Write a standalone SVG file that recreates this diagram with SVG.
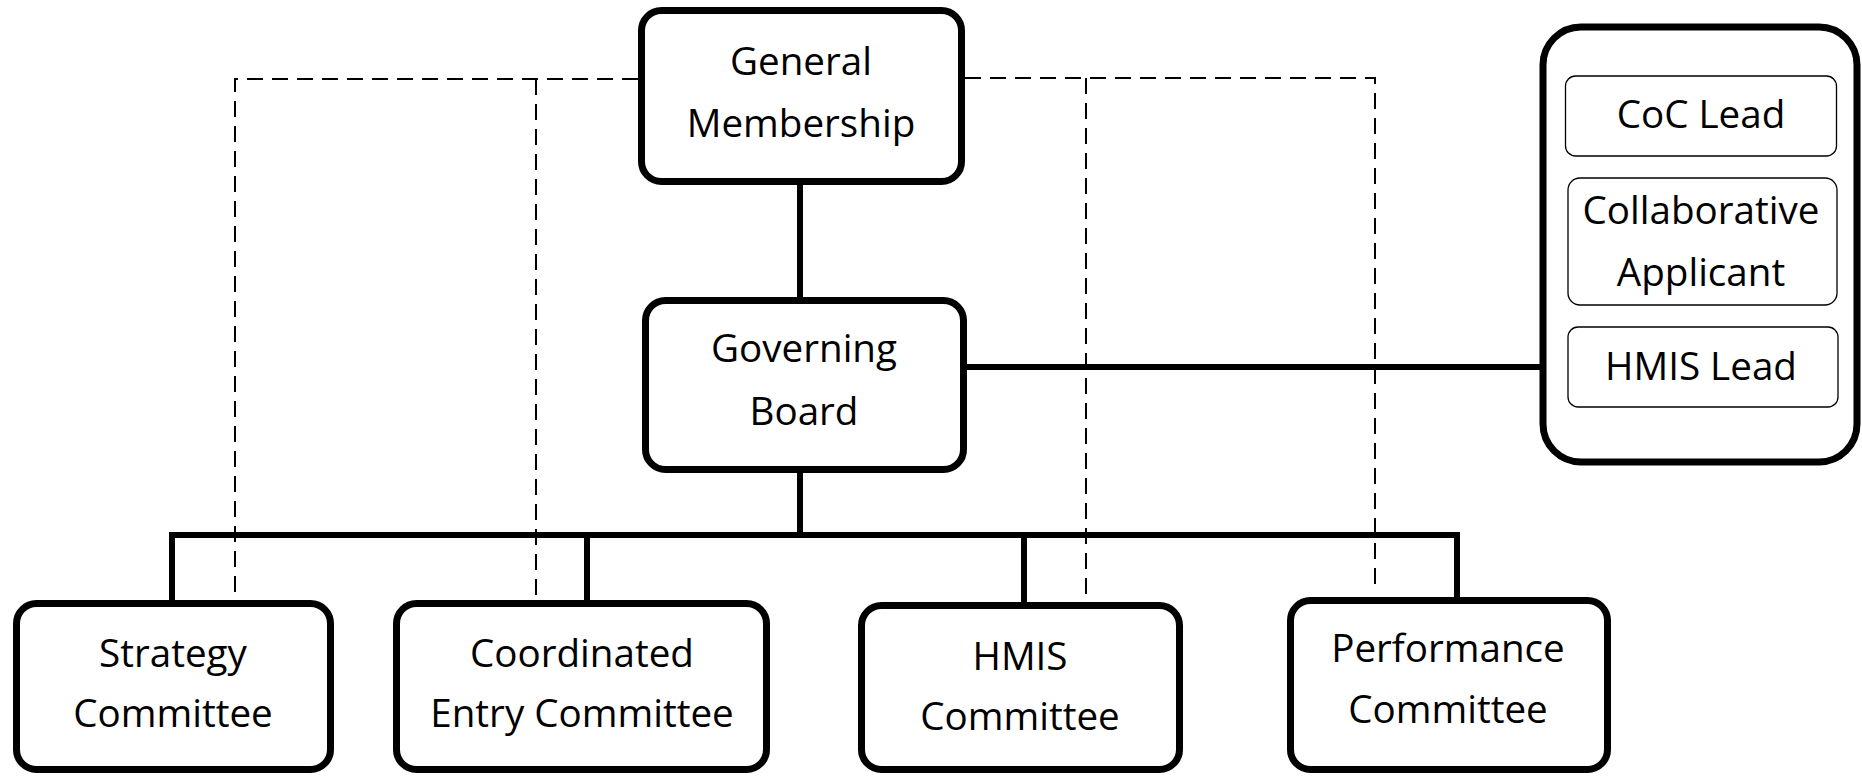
<svg xmlns="http://www.w3.org/2000/svg" width="1862" height="776" viewBox="0 0 1862 776">
<style>
.box{fill:#fff;stroke:#000;stroke-width:7}
.inner{fill:#fff;stroke:#000;stroke-width:1.3}
.solid{fill:none;stroke:#000;stroke-width:6}
.dash{fill:none;stroke:#000;stroke-width:2;stroke-dasharray:16 9}
text{font-family:"Open Sans","Liberation Sans",sans-serif;font-size:38.6px;fill:#000;text-anchor:middle}
</style>
<rect width="1862" height="776" fill="#fff"/>
<g id="connectors">
<path class="dash" d="M638 79 H235 V592"/>
<path class="dash" d="M536 79 V598"/>
<path class="dash" d="M965 78 H1375 V592"/>
<path class="dash" d="M1086 78 V595"/>
<path class="solid" d="M800 185 V297"/>
<path class="solid" d="M800 473 V535"/>
<path class="solid" d="M172 600 V535 H1457 V597"/>
<path class="solid" d="M587 535 V600"/>
<path class="solid" d="M1024 535 V602"/>
<path class="solid" d="M967 367 H1540"/>
</g>
<g id="general-membership">
<rect class="box" x="641.5" y="10.5" width="320" height="171" rx="20"/>
<text x="801" y="75">General</text>
<text x="801" y="137">Membership</text>
</g>
<g id="governing-board">
<rect class="box" x="645.5" y="300.5" width="318" height="169" rx="20"/>
<text x="804" y="362">Governing</text>
<text x="804" y="425">Board</text>
</g>
<g id="strategy-committee">
<rect class="box" x="16.5" y="603.5" width="314" height="166" rx="20"/>
<text x="173" y="667">Strategy</text>
<text x="173" y="727">Committee</text>
</g>
<g id="coordinated-entry-committee">
<rect class="box" x="396.5" y="603.5" width="370" height="166" rx="20"/>
<text x="582" y="667">Coordinated</text>
<text x="582" y="727">Entry Committee</text>
</g>
<g id="hmis-committee">
<rect class="box" x="861.5" y="605.5" width="318" height="164" rx="20"/>
<text x="1020" y="670">HMIS</text>
<text x="1020" y="730">Committee</text>
</g>
<g id="performance-committee">
<rect class="box" x="1290.5" y="600.5" width="317" height="169" rx="20"/>
<text x="1448" y="662">Performance</text>
<text x="1448" y="723">Committee</text>
</g>
<g id="lead-agencies">
<rect class="box" x="1543" y="27" width="314" height="435" rx="38"/>
</g>
<g id="coc-lead">
<rect class="inner" x="1565.5" y="76" width="271" height="80" rx="10"/>
<text x="1701" y="128">CoC Lead</text>
</g>
<g id="collaborative-applicant">
<rect class="inner" x="1568" y="178" width="269" height="127" rx="12"/>
<text x="1701" y="224">Collaborative</text>
<text x="1701" y="286">Applicant</text>
</g>
<g id="hmis-lead">
<rect class="inner" x="1568" y="327" width="270" height="80" rx="10"/>
<text x="1701" y="380">HMIS Lead</text>
</g>
</svg>
